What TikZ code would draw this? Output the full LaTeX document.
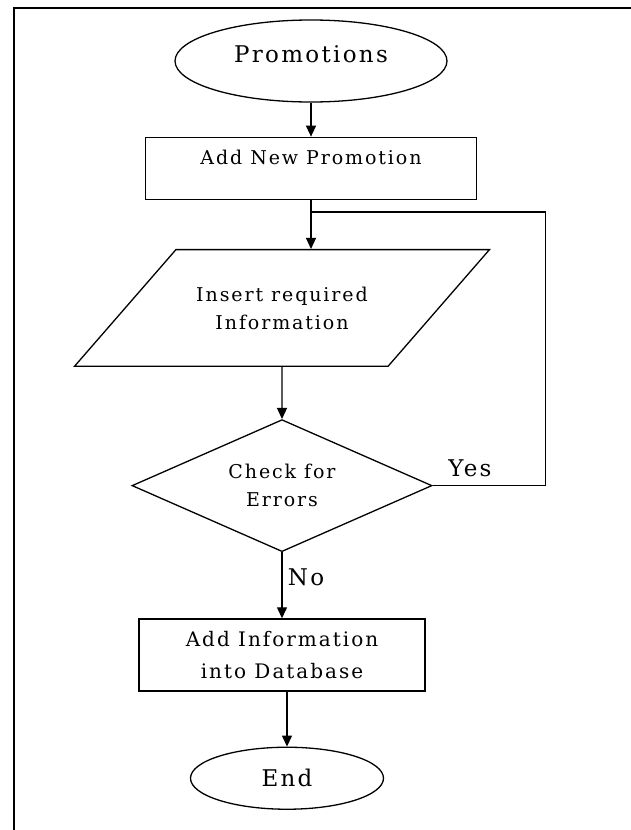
\documentclass[tikz,border=0pt]{standalone}
\usepackage{fontspec}
\setmainfont{DejaVu Serif}[LetterSpace=10]
\usetikzlibrary{arrows.meta,positioning,shapes.geometric}

\begin{document}
\begin{tikzpicture}[
x=1pt, y=-1pt,
line width=1.3pt,
term/.style={draw, ellipse, inner sep=0pt, font=\fontsize{23}{28}\selectfont},
box/.style={draw, rectangle, align=center, inner sep=0pt},
io/.style={draw, trapezium, trapezium left angle=49, trapezium right angle=131,
  trapezium stretches body, align=center, inner xsep=0pt, inner ysep=37pt,
  minimum width=415pt},
decision/.style={draw, diamond, aspect=2.27, align=center, inner sep=0pt,
  minimum width=300pt, minimum height=132pt},
arrow/.style={-{Triangle[length=11pt, width=10pt]}},
lbl/.style={font=\fontsize{23}{28}\selectfont}
]
\useasboundingbox (0,0) rectangle (631,830);
% page frame
\draw[line width=2pt] (14,830) -- (14,8) -- (631,8);

\node[term, minimum width=272pt, minimum height=82pt, text height=17pt, text depth=15pt] (promo) at (311,61) {Promotions};
\node[box, below=34pt of promo, minimum width=331pt, minimum height=62pt,
  font=\fontsize{19}{28}\selectfont, text height=14pt, text depth=22pt] (addpromo) {Add New Promotion};
\coordinate[below=12pt of addpromo] (join);
\node[io, below=49pt of addpromo, xshift=-29pt, font=\fontsize{19}{28}\selectfont] (insert) {Insert required\\Information};
\node[decision, below=52pt of insert, font=\fontsize{19}{28}\selectfont] (check) {Check for\\Errors};
\node[box, below=66pt of check, minimum width=286pt, minimum height=72pt,
  font=\fontsize{20}{32}\selectfont] (adddb) {Add Information\\into Database};
\node[term, below=55pt of adddb, xshift=5pt, minimum width=193pt, minimum height=62pt] (end) {End};

\draw[arrow] (promo) -- (addpromo);
\draw[arrow] (addpromo) -- (insert.north -| addpromo);
\draw[arrow] (insert) -- (check);
\draw[arrow] (check) -- node[lbl, right, xshift=2pt, yshift=8pt] {No} (adddb);
\draw (check.east) -- node[lbl, above=5pt, pos=.33] {Yes} ++(113,0) |- (join);
\draw[arrow] (adddb.south -| end) -- (end);
\end{tikzpicture}
\end{document}
